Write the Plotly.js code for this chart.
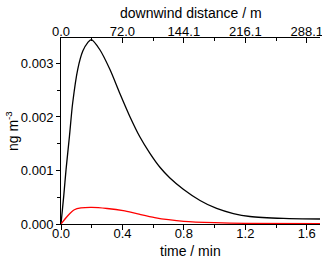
<!DOCTYPE html>
<html>
<head>
<meta charset="utf-8">
<script src="https://cdn.plot.ly/plotly-3.0.1.min.js"></script>
<style>html,body{margin:0;padding:0;background:#fff;}#chart{width:322px;height:258px;}</style>
</head>
<body>
<div id="chart"></div>
<script>
// time in minutes, concentration in ng m^-3
var blackTime = [0, 0.018, 0.033, 0.055, 0.076, 0.109, 0.142, 0.174, 0.198, 0.252, 0.318, 0.383, 0.448, 0.513, 0.579, 0.644, 0.709, 0.796, 0.905, 1.013, 1.122, 1.23, 1.448, 1.686];
var blackVals = [0, 0.00053, 0.00102, 0.00164, 0.00226, 0.00289, 0.00323, 0.00339, 0.003445, 0.00326, 0.00289, 0.00244, 0.00201, 0.00163, 0.00132, 0.00106, 0.00086, 0.00065, 0.00044, 0.00029, 0.000195, 0.00014, 0.000105, 0.000093];
var redTime = [0, 0.044, 0.087, 0.13, 0.2, 0.3, 0.405, 0.5, 0.61, 0.7, 0.8, 1.0, 1.2, 1.686];
var redVals = [0, 0.000155, 0.000266, 0.0003, 0.00031, 0.00029, 0.00025, 0.000188, 0.00012, 0.00008, 0.00005, 0.000025, 0.000012, 0.000008];
// top axis: downwind distance labels at the bottom-axis major tick positions
var topTickTimes = [0, 0.4, 0.8, 1.2, 1.6];
var topTickLabels = ['0.0', '72.0', '144.1', '216.1', '288.1'];
var xTitle = 'time / min';
var x2Title = 'downwind distance / m';
var yTitle = 'ng m<sup>-3</sup>';

var font = {family: 'Liberation Sans, Arial, sans-serif', size: 13, color: '#000'};
var tfont = {family: 'Liberation Sans, Arial, sans-serif', size: 14, color: '#000'};
var traces = [
  {x: blackTime, y: blackVals, type: 'scatter', mode: 'lines', line: {color: '#000', width: 1.3, shape: 'spline', smoothing: 0.8}, hoverinfo: 'skip'},
  {x: redTime, y: redVals, type: 'scatter', mode: 'lines', line: {color: '#ff0000', width: 1.3, shape: 'spline', smoothing: 0.8}, hoverinfo: 'skip'},
  {x: blackTime, y: blackVals, xaxis: 'x2', type: 'scatter', mode: 'lines', line: {color: 'rgba(0,0,0,0)', width: 0}, hoverinfo: 'skip', showlegend: false}
];
var layout = {
  width: 322, height: 258,
  margin: {l: 61, r: 2, t: 38, b: 34},
  paper_bgcolor: '#fff', plot_bgcolor: '#fff',
  showlegend: false,
  font: font,
  xaxis: {
    range: [0, 1.686], dtick: 0.4, tick0: 0, tickformat: '.1f',
    showline: true, linecolor: '#000', linewidth: 1,
    ticks: 'outside', ticklen: 5, tickcolor: '#000', tickwidth: 1,
    minor: {dtick: 0.2, ticks: 'outside', ticklen: 3, tickcolor: '#000'},
    showgrid: false, zeroline: false,
    tickfont: font, ticklabelstandoff: -8, ticklabeloverflow: 'allow'
  },
  xaxis2: {
    overlaying: 'x', side: 'top', range: [0, 1.686],
    tickmode: 'array', tickvals: topTickTimes, ticktext: topTickLabels,
    showline: true, linecolor: '#000', linewidth: 1,
    ticks: 'inside', ticklen: 5, tickcolor: '#000', tickwidth: 1,
    minor: {tickvals: [0.2, 0.6, 1.0, 1.4], ticks: 'inside', ticklen: 3, tickcolor: '#000'},
    showgrid: false, zeroline: false,
    tickfont: font, ticklabelstandoff: -4, ticklabeloverflow: 'allow'
  },
  yaxis: {
    range: [0, 0.003475], dtick: 0.001, tick0: 0, tickformat: '.3f',
    showline: true, linecolor: '#000', linewidth: 1,
    ticks: 'outside', ticklen: 4, tickcolor: '#000', tickwidth: 1,
    minor: {dtick: 0.0005, ticks: 'outside', ticklen: 3, tickcolor: '#000'},
    showgrid: false, zeroline: false,
    tickfont: font
  },
  annotations: [
    {text: xTitle, xref: 'paper', yref: 'paper', x: 0.5, y: -0.145, xanchor: 'center', yanchor: 'middle', showarrow: false, font: tfont},
    {text: x2Title, xref: 'paper', yref: 'paper', x: 0.5, y: 1.132, xanchor: 'center', yanchor: 'middle', showarrow: false, font: tfont},
    {text: yTitle, xref: 'paper', yref: 'paper', x: -0.189, y: 0.5, xanchor: 'center', yanchor: 'middle', textangle: -90, showarrow: false, font: tfont}
  ]
};
Plotly.newPlot('chart', traces, layout, {staticPlot: true, displayModeBar: false});
</script>
</body>
</html>
